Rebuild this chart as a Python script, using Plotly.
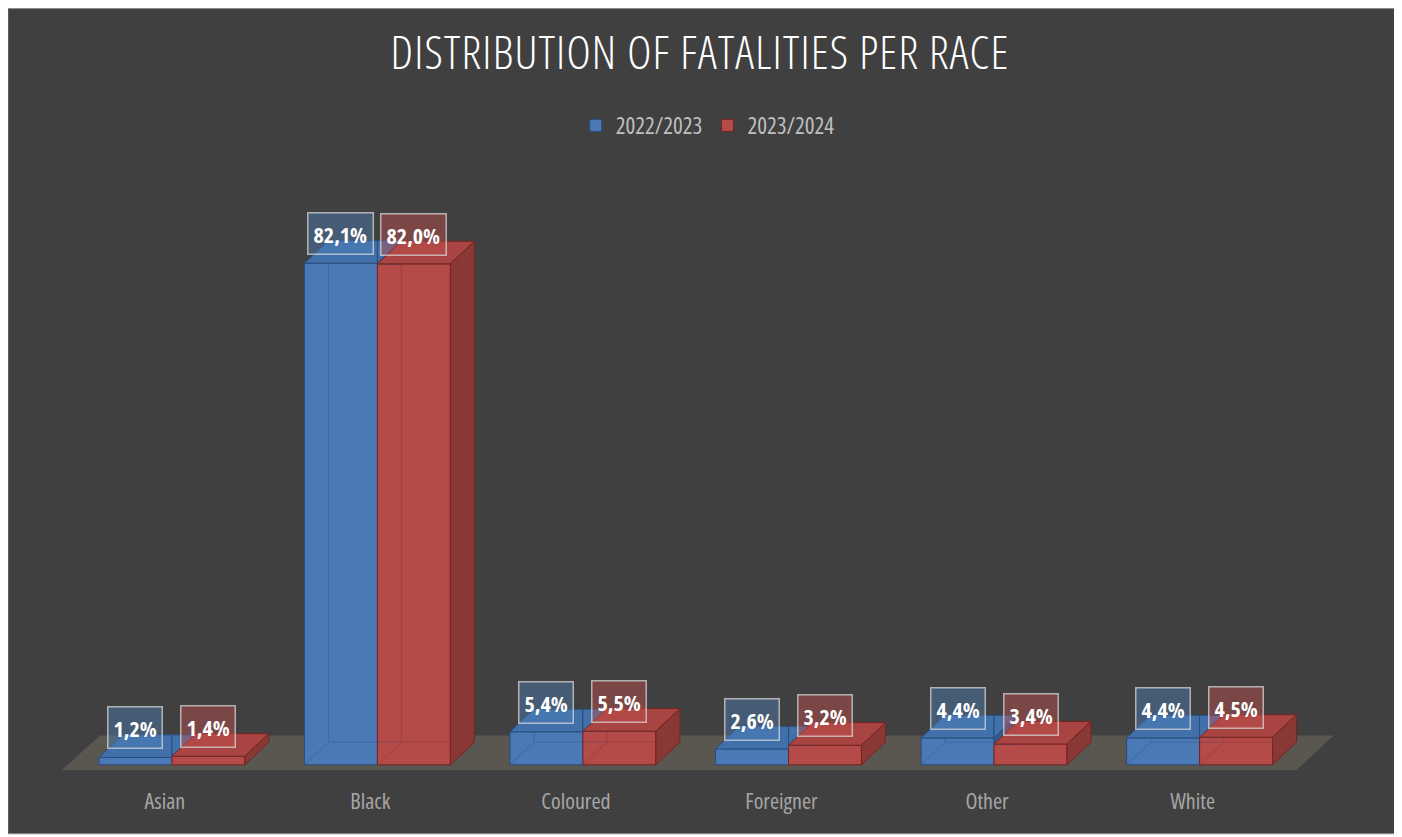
import plotly.graph_objects as go

# ---------------- data ----------------
categories = ["Asian", "Black", "Coloured", "Foreigner", "Other", "White"]
series_names = ["2022/2023", "2023/2024"]
values_2022_23 = [1.2, 82.1, 5.4, 2.6, 4.4, 4.4]
values_2023_24 = [1.4, 82.0, 5.5, 3.2, 3.4, 4.5]

# ---------------- style ----------------
BG = "#404040"
BLUE_FRONT, BLUE_TOP, BLUE_SIDE, BLUE_EDGE = "#4a79b6", "#4270aa", "#34598c", "#2b4d7e"
RED_FRONT, RED_TOP, RED_SIDE, RED_EDGE = "#b44b48", "#a84442", "#8a3836", "#742523"
BLUE_HIDDEN, RED_HIDDEN = "rgba(40,70,120,0.3)", "rgba(120,40,38,0.3)"
FLOOR = "#5a5750"
FONT = "Open Sans, sans-serif"


def cond(s, pct=75, spacing=None):
    extra = f";letter-spacing:{spacing}px" if spacing else ""
    return f'<span style="font-stretch:{pct}%{extra}">{s}</span>'


W, H = 1394, 829       # the page body adds an 8px offset
BAR_W = 0.355          # width of one bar in category units
DX, DY = 0.117, 3.7    # 3-D depth offset (x units, y units)
X_RANGE = [-0.7, 5.8]
Y_RANGE = [-2, 90]
M_L, M_R, M_T, M_B = 20.1, 37.5, 206.65, 59.8


def clip(poly, inside, intersect):
    out = []
    n = len(poly)
    for k in range(n):
        cur, prev = poly[k], poly[k - 1]
        if inside(cur):
            if not inside(prev):
                out.append(intersect(prev, cur))
            out.append(cur)
        elif inside(prev):
            out.append(intersect(prev, cur))
    return out


def clip_y_ge(poly, yc):
    def inter(p, q):
        t = (yc - p[1]) / (q[1] - p[1])
        return (p[0] + t * (q[0] - p[0]), yc)
    return clip(poly, lambda p: p[1] >= yc - 1e-12, inter)


def clip_x_le(poly, xc):
    def inter(p, q):
        t = (xc - p[0]) / (q[0] - p[0])
        return (xc, p[1] + t * (q[1] - p[1]))
    return clip(poly, lambda p: p[0] <= xc + 1e-12, inter)


def clip_x_ge(poly, xc):
    def inter(p, q):
        t = (xc - p[0]) / (q[0] - p[0])
        return (xc, p[1] + t * (q[1] - p[1]))
    return clip(poly, lambda p: p[0] >= xc - 1e-12, inter)


def face(poly, fill, edge):
    if len(poly) < 3:
        return None
    xs = [p[0] for p in poly] + [poly[0][0]]
    ys = [p[1] for p in poly] + [poly[0][1]]
    return go.Scatter(x=xs, y=ys, mode="lines", fill="toself", fillcolor=fill,
                      line=dict(color=edge, width=1), hoverinfo="skip",
                      showlegend=False)


def hidden_edges(x0, x1, v, color):
    xs = [x0, x0 + DX, x1 + DX, None, x0 + DX, x0 + DX]
    ys = [0, DY, DY, None, DY, v + DY]
    return go.Scatter(x=xs, y=ys, mode="lines", line=dict(color=color, width=1),
                      hoverinfo="skip", showlegend=False)


fig = go.Figure()
idx = list(range(len(categories)))

fig.add_trace(go.Bar(x=idx, y=values_2022_23, name=cond(series_names[0]), offset=-BAR_W,
                     width=BAR_W,
                     marker=dict(color=BLUE_FRONT, line=dict(color=BLUE_EDGE, width=1))))
fig.add_trace(go.Bar(x=idx, y=values_2023_24, name=cond(series_names[1]), offset=0,
                     width=BAR_W,
                     marker=dict(color=RED_FRONT, line=dict(color=RED_EDGE, width=1))))

for i, (vb, vr) in enumerate(zip(values_2022_23, values_2023_24)):
    x0, x1, x2 = i - BAR_W, i, i + BAR_W
    if vb > DY:
        fig.add_trace(hidden_edges(x0, x1, vb, BLUE_HIDDEN))
    if vr > DY:
        fig.add_trace(hidden_edges(x1, x2, vr, RED_HIDDEN))
    top_b = [(x0, vb), (x1, vb), (x1 + DX, vb + DY), (x0 + DX, vb + DY)]
    for poly in (clip_x_le(top_b, x1), clip_y_ge(clip_x_ge(top_b, x1), vr)):
        t = face(poly, BLUE_TOP, BLUE_EDGE)
        if t:
            fig.add_trace(t)
    side_b = [(x1, 0), (x1, vb), (x1 + DX, vb + DY), (x1 + DX, DY)]
    t = face(clip_y_ge(side_b, vr), BLUE_SIDE, BLUE_EDGE)
    if t:
        fig.add_trace(t)
    fig.add_trace(face([(x1, vr), (x2, vr), (x2 + DX, vr + DY), (x1 + DX, vr + DY)], RED_TOP, RED_EDGE))
    fig.add_trace(face([(x2, 0), (x2, vr), (x2 + DX, vr + DY), (x2 + DX, DY)], RED_SIDE, RED_EDGE))

for vals, off, bg in ((values_2022_23, -BAR_W / 2, "rgba(79,129,189,0.42)"),
                      (values_2023_24, BAR_W / 2, "rgba(192,80,77,0.45)")):
    for i, v in enumerate(vals):
        fig.add_annotation(x=i + off, y=v, yanchor="bottom", yshift=8,
                           text=cond(f"{v:.1f}%".replace(".", ",")), showarrow=False,
                           font=dict(family=FONT, size=22, color="white", weight="bold"),
                           bgcolor=bg, bordercolor="rgba(215,215,215,0.75)",
                           borderwidth=1.5, borderpad=5)

pw, ph = W - M_L - M_R, H - M_T - M_B
def px(xp): return (xp - M_L) / pw
def py(yp): return (H - M_B - yp) / ph

shapes = [
    dict(type="rect", xref="paper", yref="paper", x0=px(0), x1=px(1387), y0=py(826), y1=py(0),
         fillcolor=BG, line=dict(color="#8a8a8a", width=1), layer="below"),
    dict(type="path", xref="x", yref="y", layer="below", fillcolor=FLOOR, line=dict(width=0),
         path=f"M {-0.535},{-0.85} L {5.472},{-0.85} L {5.652},{4.8} L {-0.35},{4.8} Z"),
]

fig.update_layout(
    width=W, height=H,
    margin=dict(l=M_L, r=M_R, t=M_T, b=M_B, pad=0),
    paper_bgcolor="white", plot_bgcolor="rgba(0,0,0,0)",
    barmode="overlay",
    shapes=shapes,
    title=dict(text=cond("DISTRIBUTION OF FATALITIES PER RACE", 75, 1.2), x=692 / W,
               xanchor="center", y=1 - 45 / H, yanchor="middle", yref="container",
               font=dict(family=FONT, size=46, color="white", weight=300)),
    legend=dict(orientation="h", x=px(700), xanchor="center", y=py(117), yanchor="middle",
                font=dict(family=FONT, size=23, color="#bfbfbf"),
                bgcolor="rgba(0,0,0,0)", itemwidth=30),
    xaxis=dict(range=X_RANGE, tickvals=idx, ticktext=[cond(c) for c in categories],
               showgrid=False, zeroline=False, showline=False, ticks="",
               tickfont=dict(family=FONT, size=22, color="#a6a6a6"),
               ticklabelstandoff=9, ticklabelshift=-7, fixedrange=True),
    yaxis=dict(range=Y_RANGE, visible=False, showgrid=False, zeroline=False, fixedrange=True),
    showlegend=True,
)

fig.write_html("out.html")
